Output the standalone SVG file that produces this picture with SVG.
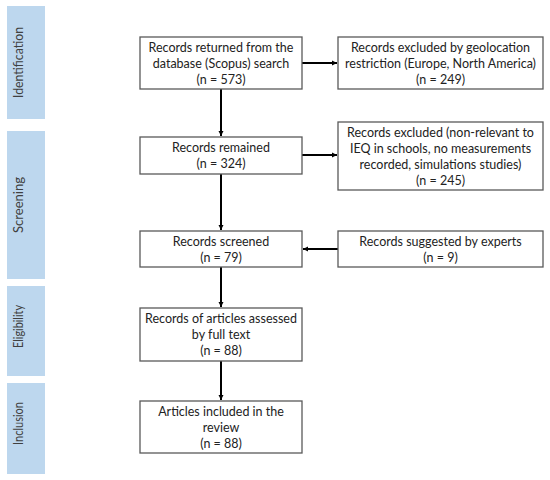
<svg xmlns="http://www.w3.org/2000/svg" width="550" height="480" viewBox="0 0 550 480">
<defs>
<style>
.side{fill:#bdd7ee;}
.sidet{font-family:Lato,"Open Sans","Liberation Sans",sans-serif;font-size:13px;fill:#404040;text-anchor:middle;}
.box{fill:#fff;stroke:#595959;stroke-width:1.3;}
.t{font-family:Lato,"Open Sans","Liberation Sans",sans-serif;font-size:12.5px;fill:#222;text-anchor:middle;}
.c{stroke:#000;stroke-width:2;fill:none;marker-end:url(#ah);}
</style>
<marker id="ah" markerWidth="6" markerHeight="6" refX="5" refY="3" orient="auto" markerUnits="userSpaceOnUse">
<path d="M0,0.5 L5,3 L0,5.5 Z" fill="#000"/>
</marker>
</defs>
<rect width="550" height="480" fill="#fff"/>
<g id="phase-identification"><rect class="side" x="7" y="6" width="38" height="113"/><text class="sidet" transform="translate(23,62.5) rotate(-90)" textLength="71" lengthAdjust="spacingAndGlyphs">Identification</text></g>
<g id="phase-screening"><rect class="side" x="7" y="131" width="38" height="148"/><text class="sidet" transform="translate(23,205) rotate(-90)" textLength="56" lengthAdjust="spacingAndGlyphs">Screening</text></g>
<g id="phase-eligibility"><rect class="side" x="7" y="286" width="38" height="90"/><text class="sidet" transform="translate(23,326.5) rotate(-90)" textLength="43" lengthAdjust="spacingAndGlyphs">Eligibility</text></g>
<g id="phase-inclusion"><rect class="side" x="7" y="383" width="38" height="91"/><text class="sidet" transform="translate(23,423.5) rotate(-90)" textLength="43" lengthAdjust="spacingAndGlyphs">Inclusion</text></g>
<g id="connectors">
<line class="c" x1="221" y1="89" x2="221" y2="136"/>
<line class="c" x1="221" y1="174" x2="221" y2="230"/>
<line class="c" x1="221" y1="267" x2="221" y2="307"/>
<line class="c" x1="221" y1="361" x2="221" y2="400"/>
<line class="c" x1="302" y1="63" x2="337" y2="63"/>
<line class="c" x1="302" y1="155" x2="337" y2="155"/>
<line class="c" x1="338" y1="249" x2="303" y2="249"/>
</g>
<g id="records-returned"><rect class="box" x="140" y="37" width="162" height="52"/><text class="t" x="221" y="52">Records returned from the</text><text class="t" x="221" y="68">database (Scopus) search</text><text class="t" x="221" y="84">(n = 573)</text></g>
<g id="excluded-geo"><rect class="box" x="338" y="37" width="205" height="52"/><text class="t" x="440.5" y="52">Records excluded by geolocation</text><text class="t" x="440.5" y="68">restriction (Europe, North America)</text><text class="t" x="440.5" y="84">(n = 249)</text></g>
<g id="records-remained"><rect class="box" x="140" y="137" width="162" height="37"/><text class="t" x="221" y="152">Records remained</text><text class="t" x="221" y="168">(n = 324)</text></g>
<g id="excluded-nonrelevant"><rect class="box" x="338" y="122" width="205" height="68"/><text class="t" x="440.5" y="137">Records excluded (non-relevant to</text><text class="t" x="440.5" y="153">IEQ in schools, no measurements</text><text class="t" x="440.5" y="169">recorded, simulations studies)</text><text class="t" x="440.5" y="185">(n = 245)</text></g>
<g id="records-screened"><rect class="box" x="140" y="231" width="162" height="36"/><text class="t" x="221" y="246">Records screened</text><text class="t" x="221" y="262">(n = 79)</text></g>
<g id="suggested"><rect class="box" x="338" y="231" width="205" height="36"/><text class="t" x="440.5" y="246">Records suggested by experts</text><text class="t" x="440.5" y="262">(n = 9)</text></g>
<g id="assessed"><rect class="box" x="140" y="308" width="162" height="53"/><text class="t" x="221" y="323">Records of articles assessed</text><text class="t" x="221" y="339">by full text</text><text class="t" x="221" y="355">(n = 88)</text></g>
<g id="included"><rect class="box" x="140" y="401" width="162" height="52"/><text class="t" x="221" y="416">Articles included in the</text><text class="t" x="221" y="432">review</text><text class="t" x="221" y="448">(n = 88)</text></g>
</svg>
